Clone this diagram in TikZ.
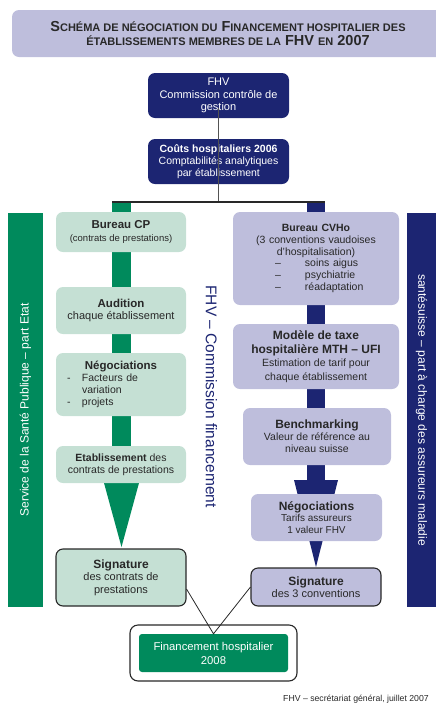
\documentclass[tikz,border=0pt]{standalone}
\usepackage{fontspec}
\setmainfont{Liberation Sans}
\definecolor{fhvnavy}{RGB}{28,37,114}
\definecolor{fhvlilac}{RGB}{190,190,220}
\definecolor{etatgreen}{RGB}{0,138,92}
\definecolor{etatpale}{RGB}{197,224,212}
\definecolor{ink}{RGB}{40,40,40}
\newcommand\fsz[2]{\fontsize{#1}{#2}\selectfont}
\newcommand\petit[1]{{\fsz{11}{14}#1}}
\tikzset{
    wh/.style 2 args={minimum width=#1, minimum height=#2},
    palebox/.style={fill=etatpale, rounded corners=7pt},
    lilacbox/.style={fill=fhvlilac, rounded corners=7pt},
    navybox/.style={fill=fhvnavy, rounded corners=7pt, text=white},
    signbox/.style={draw=ink, line width=1.1pt},
    link/.style={draw=ink, line width=0.8pt},
}

\begin{document}
\begin{tikzpicture}[x=1pt, y=-1pt, every node/.style={inner sep=0pt, align=center, text=ink, font=\fsz{10.5}{12}}]
    \useasboundingbox (0,0) rectangle (436,705);
    \node[lilacbox, wh={432pt}{47pt}, font=\bfseries\fsz{14.5}{14}] (titre) at (228,33.5) {S\petit{CHÉMA DE NÉGOCIATION DU} F\petit{INANCEMENT HOSPITALIER DES}\\\petit{ÉTABLISSEMENTS MEMBRES DE LA} FHV \petit{EN} 2007};

    \fill[etatgreen] (8,213) rectangle (43,607);
    \fill[fhvnavy] (407,213) rectangle (437,607);
    \node[rotate=90, text=white, font=\fsz{12}{14}] (etat) at (25.5,410) {Service de la Santé Publique – part Etat};
    \node[rotate=-90, text=white, font=\fsz{12}{14}] (assureurs) at (421.5,410) {santésuisse – part à charge des assureurs maladie};

    \fill[etatgreen] (112,202) rectangle (131,490);
    \fill[etatgreen] (104,483) -- (139,483) -- (121.5,547) -- cycle;
    \fill[fhvnavy] (307,202) rectangle (325,484);
    \fill[fhvnavy] (294,480) -- (338,480) -- (316,567) -- cycle;

    \node[navybox, wh={141pt}{45pt}, font=\fsz{11}{12}] (fhv) at (218.5,95.5) {FHV\\[1pt]Commission contrôle de\\gestion};
    \node[navybox, wh={141pt}{45pt}] (couts) at (218.5,161.5) {\textbf{Coûts hospitaliers 2006}\\Comptabilités analytiques\\par établissement};

    \node[palebox, wh={130pt}{40pt}] (cp) at (121,232) {{\bfseries\fsz{11.5}{12}Bureau CP}\\[1pt]{\fsz{9.5}{12}(contrats de prestations)}};
    \node[palebox, wh={130pt}{47pt}, font=\fsz{11}{12}] (audition) at (121,310.5) {{\bfseries\fsz{11.5}{12}Audition}\\chaque établissement};
    \node[palebox, wh={130pt}{63pt}, text width=108pt, align=left] (negoL) at (121,384.5) {\makebox[108pt]{\bfseries\fsz{11.5}{12}Négociations}\\\makebox[15pt][l]{-}Facteurs de\\\hspace*{15pt}variation\\\makebox[15pt][l]{-}projets};
    \node[palebox, wh={130pt}{37pt}] (etab) at (121,464.5) {\textbf{Etablissement} des\\contrats de prestations};
    \node[palebox, signbox, wh={130pt}{57pt}, font=\fsz{11}{12.5}] (signL) at (121,577.5) {{\bfseries\fsz{12}{12}Signature}\\des contrats de\\prestations};

    \node[lilacbox, wh={166pt}{93pt}, text width=150pt, align=left, font=\fsz{10.5}{11.8}] (cvho) at (316,258.5) {\makebox[150pt]{\bfseries Bureau CVHo}\\\makebox[150pt]{(3 conventions vaudoises}\\\makebox[150pt]{d’hospitalisation)}\\\hspace*{34pt}\makebox[30pt][l]{–}soins aigus\\\hspace*{34pt}\makebox[30pt][l]{–}psychiatrie\\\hspace*{34pt}\makebox[30pt][l]{–}réadaptation};
    \node[lilacbox, wh={166pt}{65pt}, font=\fsz{10.5}{13.5}] (mth) at (316,356.5) {{\bfseries\fsz{12}{12}Modèle de taxe}\\{\bfseries\fsz{12}{12}hospitalière MTH – UFI}\\Estimation de tarif pour\\chaque établissement};
    \node[lilacbox, wh={148pt}{57pt}] (bench) at (317,436.5) {{\bfseries\fsz{12}{12}Benchmarking}\\Valeur de référence au\\niveau suisse};
    \node[lilacbox, wh={131pt}{47pt}, font=\fsz{10}{11.5}] (negoR) at (316.5,517.5) {{\bfseries\fsz{12}{12}Négociations}\\Tarifs assureurs\\1 valeur FHV};
    \node[lilacbox, signbox, wh={130pt}{38pt}, font=\fsz{11}{12.5}] (signR) at (316,587) {{\bfseries\fsz{12}{12}Signature}\\des 3 conventions};

    \node[rotate=-90, text=fhvnavy, font=\fsz{15.5}{18}] (commission) at (211.5,396.5) {FHV – Commission financement};

    \coordinate (barL) at (112,202);
    \coordinate (barR) at (325,202);
    \draw[draw=ink!80, line width=1pt] ([yshift=-12pt]fhv.center) -- (fhv.center |- barL);
    \draw[ink, line width=2.5pt] (barL) -- (barR);

    \node[draw=ink, line width=1.1pt, rounded corners=8pt, fill=white, wh={167pt}{56pt}] (cadre) at (213.5,653) {};
    \node[fill=etatgreen, rounded corners=3pt, text=white, wh={149pt}{38pt}, font=\fsz{11.3}{14}] (fin) at (213.5,653) {Financement hospitalier\\2008};
    \draw[link] (signL.-10) -- (fin.north) -- (signR.west);

    \node[anchor=base west, font=\fsz{8.7}{10}] (pied) at (283,701.5) {FHV – secrétariat général, juillet 2007};
\end{tikzpicture}
\end{document}
